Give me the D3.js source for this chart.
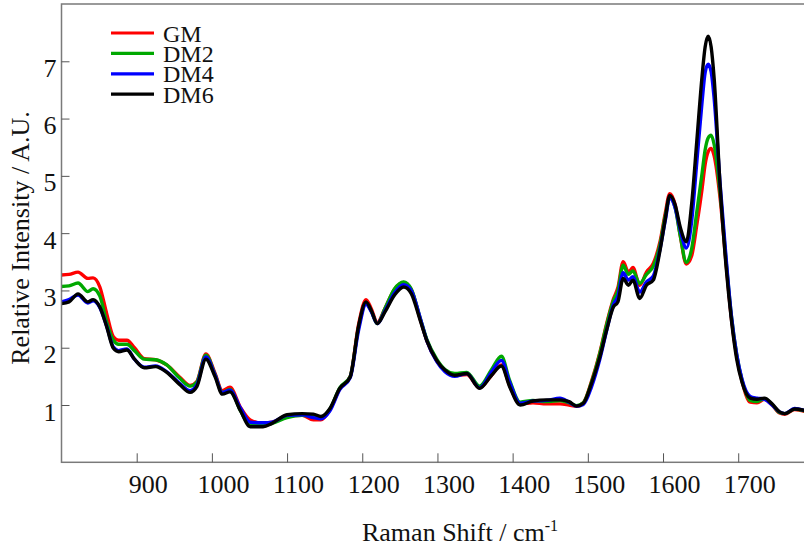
<!DOCTYPE html>
<html>
<head>
<meta charset="utf-8">
<script src="https://cdn.jsdelivr.net/npm/d3@7"></script>
<style>
  body { margin: 0; background: #fff; }
  svg { display: block; }
  text { font-family: "Liberation Serif", "Times New Roman", serif; fill: #111; }
</style>
</head>
<body>
<svg id="chart" width="804" height="547"></svg>
<script>
// wavenumber grid (cm-1)
const wavenumber = [800, 810, 822, 835, 842, 851, 860, 869, 876, 887,
  897, 910, 925, 940, 957, 971, 980, 992, 1004, 1014,
  1024, 1038, 1051, 1068, 1080, 1100, 1120, 1135, 1145, 1157,
  1170, 1184, 1195, 1205, 1212, 1220, 1230, 1243, 1255, 1265,
  1277, 1286, 1299, 1310, 1323, 1339, 1356, 1372, 1385, 1396,
  1410, 1427, 1445, 1463, 1475, 1485, 1494, 1505, 1516, 1525,
  1534, 1540, 1547, 1554, 1560, 1569, 1578, 1587, 1596, 1603,
  1609, 1616, 1623, 1631, 1638, 1645, 1652, 1656, 1660, 1664,
  1668, 1676, 1684, 1691, 1698, 1705, 1716, 1725, 1735, 1745,
  1755, 1762, 1775, 1790];

const gm = [3.27, 3.28, 3.32, 3.21, 3.22, 3.06, 2.60, 2.19, 2.13, 2.13,
  2.00, 1.81, 1.79, 1.70, 1.49, 1.34, 1.41, 1.89, 1.56, 1.25,
  1.31, 0.96, 0.74, 0.68, 0.70, 0.80, 0.82, 0.74, 0.74, 0.92,
  1.28, 1.50, 2.40, 2.84, 2.68, 2.44, 2.68, 3.02, 3.14, 3.02,
  2.50, 2.12, 1.77, 1.60, 1.52, 1.53, 1.30, 1.52, 1.70, 1.34,
  1.02, 1.04, 1.02, 1.02, 1.00, 0.98, 1.04, 1.42, 1.92, 2.42,
  2.85, 3.05, 3.50, 3.32, 3.40, 3.09, 3.32, 3.47, 3.85, 4.35,
  4.69, 4.50, 3.95, 3.46, 3.60, 4.15, 4.78, 5.20, 5.42, 5.48,
  5.35, 4.60, 3.45, 2.50, 1.85, 1.42, 1.05, 1.04, 1.10, 1.00,
  0.86, 0.84, 0.92, 0.88];

const dm2 = [3.07, 3.08, 3.13, 2.98, 3.03, 2.90, 2.45, 2.13, 2.06, 2.06,
  1.95, 1.80, 1.79, 1.70, 1.47, 1.33, 1.40, 1.87, 1.54, 1.22,
  1.27, 0.90, 0.65, 0.64, 0.68, 0.78, 0.82, 0.80, 0.78, 0.93,
  1.30, 1.50, 2.35, 2.78, 2.64, 2.42, 2.68, 3.03, 3.15, 3.03,
  2.52, 2.14, 1.80, 1.62, 1.55, 1.57, 1.33, 1.62, 1.85, 1.43,
  1.05, 1.08, 1.06, 1.08, 1.04, 0.99, 1.04, 1.40, 1.90, 2.40,
  2.82, 3.00, 3.44, 3.28, 3.34, 3.12, 3.28, 3.42, 3.80, 4.30,
  4.62, 4.45, 3.95, 3.49, 3.72, 4.38, 5.05, 5.45, 5.66, 5.71,
  5.55, 4.70, 3.50, 2.55, 1.88, 1.44, 1.08, 1.06, 1.11, 1.01,
  0.87, 0.85, 0.93, 0.89];

const dm4 = [2.80, 2.84, 2.92, 2.78, 2.82, 2.70, 2.38, 2.01, 1.95, 1.98,
  1.80, 1.66, 1.68, 1.58, 1.38, 1.25, 1.35, 1.84, 1.53, 1.22,
  1.26, 0.95, 0.70, 0.69, 0.70, 0.82, 0.83, 0.78, 0.76, 0.90,
  1.27, 1.48, 2.30, 2.76, 2.63, 2.42, 2.64, 2.96, 3.10, 3.00,
  2.52, 2.12, 1.76, 1.58, 1.50, 1.55, 1.30, 1.58, 1.78, 1.40,
  1.03, 1.07, 1.08, 1.12, 1.05, 0.98, 1.01, 1.32, 1.80, 2.30,
  2.75, 2.90, 3.31, 3.18, 3.24, 2.97, 3.15, 3.25, 3.72, 4.22,
  4.62, 4.45, 4.05, 3.74, 4.20, 5.25, 6.30, 6.80, 6.95, 6.82,
  6.35, 4.85, 3.55, 2.55, 1.88, 1.45, 1.15, 1.12, 1.10, 1.00,
  0.88, 0.85, 0.94, 0.90];

const dm6 = [2.77, 2.80, 2.94, 2.80, 2.84, 2.71, 2.37, 1.99, 1.93, 1.96,
  1.80, 1.65, 1.67, 1.57, 1.36, 1.22, 1.32, 1.80, 1.50, 1.19,
  1.23, 0.90, 0.62, 0.62, 0.68, 0.83, 0.85, 0.84, 0.80, 0.94,
  1.29, 1.49, 2.37, 2.80, 2.65, 2.42, 2.62, 2.92, 3.06, 2.95,
  2.48, 2.12, 1.78, 1.61, 1.52, 1.55, 1.29, 1.52, 1.68, 1.32,
  1.00, 1.07, 1.09, 1.09, 1.06, 0.98, 1.03, 1.38, 1.84, 2.31,
  2.71, 2.80, 3.21, 3.09, 3.18, 2.86, 3.09, 3.18, 3.70, 4.25,
  4.66, 4.50, 4.10, 3.85, 4.50, 5.62, 6.75, 7.25, 7.44, 7.25,
  6.70, 4.81, 3.40, 2.48, 1.80, 1.40, 1.12, 1.10, 1.12, 1.02,
  0.88, 0.85, 0.93, 0.90];

const series_names = ["GM", "DM2", "DM4", "DM6"];
const series_colors = ["#ff0000", "#00a800", "#0000ff", "#000000"];
const series_values = [gm, dm2, dm4, dm6];

const x_ticks = [900, 1000, 1100, 1200, 1300, 1400, 1500, 1600, 1700];
const y_ticks = [1, 2, 3, 4, 5, 6, 7];

var svg = d3.select("#chart");

var plot_left = 61.5, plot_right = 813.4, plot_top = 4, plot_bottom = 462.3;

var x = d3.scaleLinear().domain([800, 1800]).range([plot_left, plot_right]);
var y = d3.scaleLinear().domain([0, 8]).range([plot_bottom, plot_top]);

svg.append("clipPath").attr("id", "plot_clip")
  .append("rect")
  .attr("x", plot_left).attr("y", plot_top)
  .attr("width", plot_right - plot_left).attr("height", plot_bottom - plot_top);

// spectra, black drawn last
var line = d3.line()
  .x(d => x(d[0]))
  .y(d => y(d[1]))
  .curve(d3.curveMonotoneX);

var plot = svg.append("g").attr("clip-path", "url(#plot_clip)");

series_values.forEach(function(vals, i) {
  plot.append("path")
    .datum(wavenumber.map((w, j) => [w, vals[j]]))
    .attr("d", line)
    .attr("fill", "none")
    .attr("stroke", series_colors[i])
    .attr("stroke-width", 3.4)
    .attr("stroke-linejoin", "round");
});

// frame
svg.append("rect")
  .attr("x", plot_left).attr("y", plot_top)
  .attr("width", plot_right - plot_left).attr("height", plot_bottom - plot_top)
  .attr("fill", "none")
  .attr("stroke", "#7a7a7a")
  .attr("stroke-width", 1.5);

var x_axis = svg.append("g")
  .attr("transform", "translate(0," + plot_bottom + ")")
  .call(d3.axisBottom(x).tickValues(x_ticks).tickFormat(d3.format("d"))
    .tickSizeInner(-9).tickSizeOuter(0));
x_axis.select(".domain").remove();
x_axis.selectAll(".tick line").attr("stroke", "#555");
x_axis.selectAll(".tick text")
  .attr("x", 11)
  .attr("dy", 0)
  .attr("y", 31)
  .style("font-family", "Liberation Serif")
  .style("font-size", "26px")
  .attr("fill", "#111");

var y_axis = svg.append("g")
  .attr("transform", "translate(" + plot_left + ",0)")
  .call(d3.axisLeft(y).tickValues(y_ticks).tickFormat(d3.format("d"))
    .tickSizeInner(-8).tickSizeOuter(0));
y_axis.select(".domain").remove();
y_axis.selectAll(".tick line").attr("stroke", "#555");
y_axis.selectAll(".tick text")
  .attr("x", -5)
  .attr("dy", 0)
  .attr("y", 15)
  .style("font-family", "Liberation Serif")
  .style("font-size", "26px")
  .attr("fill", "#111");

// axis titles
var x_title = svg.append("text")
  .attr("x", 460)
  .attr("y", 541)
  .attr("text-anchor", "middle")
  .style("font-size", "26px");
x_title.append("tspan").text("Raman Shift / cm");
x_title.append("tspan").attr("dy", -10).style("font-size", "16px").text("-1");

svg.append("text")
  .attr("transform", "translate(29,238) rotate(-90)")
  .attr("text-anchor", "middle")
  .style("font-size", "26px")
  .text("Relative Intensity / A.U.");

// legend
var legend = svg.append("g");
series_names.forEach(function(name, i) {
  var ly = 33 + i * 20.4;
  legend.append("line")
    .attr("x1", 111).attr("x2", 154)
    .attr("y1", ly).attr("y2", ly)
    .attr("stroke", series_colors[i])
    .attr("stroke-width", 3.2);
  legend.append("text")
    .attr("x", 163)
    .attr("y", ly + 8.6)
    .style("font-size", "24px")
    .text(name);
});
</script>
</body>
</html>
